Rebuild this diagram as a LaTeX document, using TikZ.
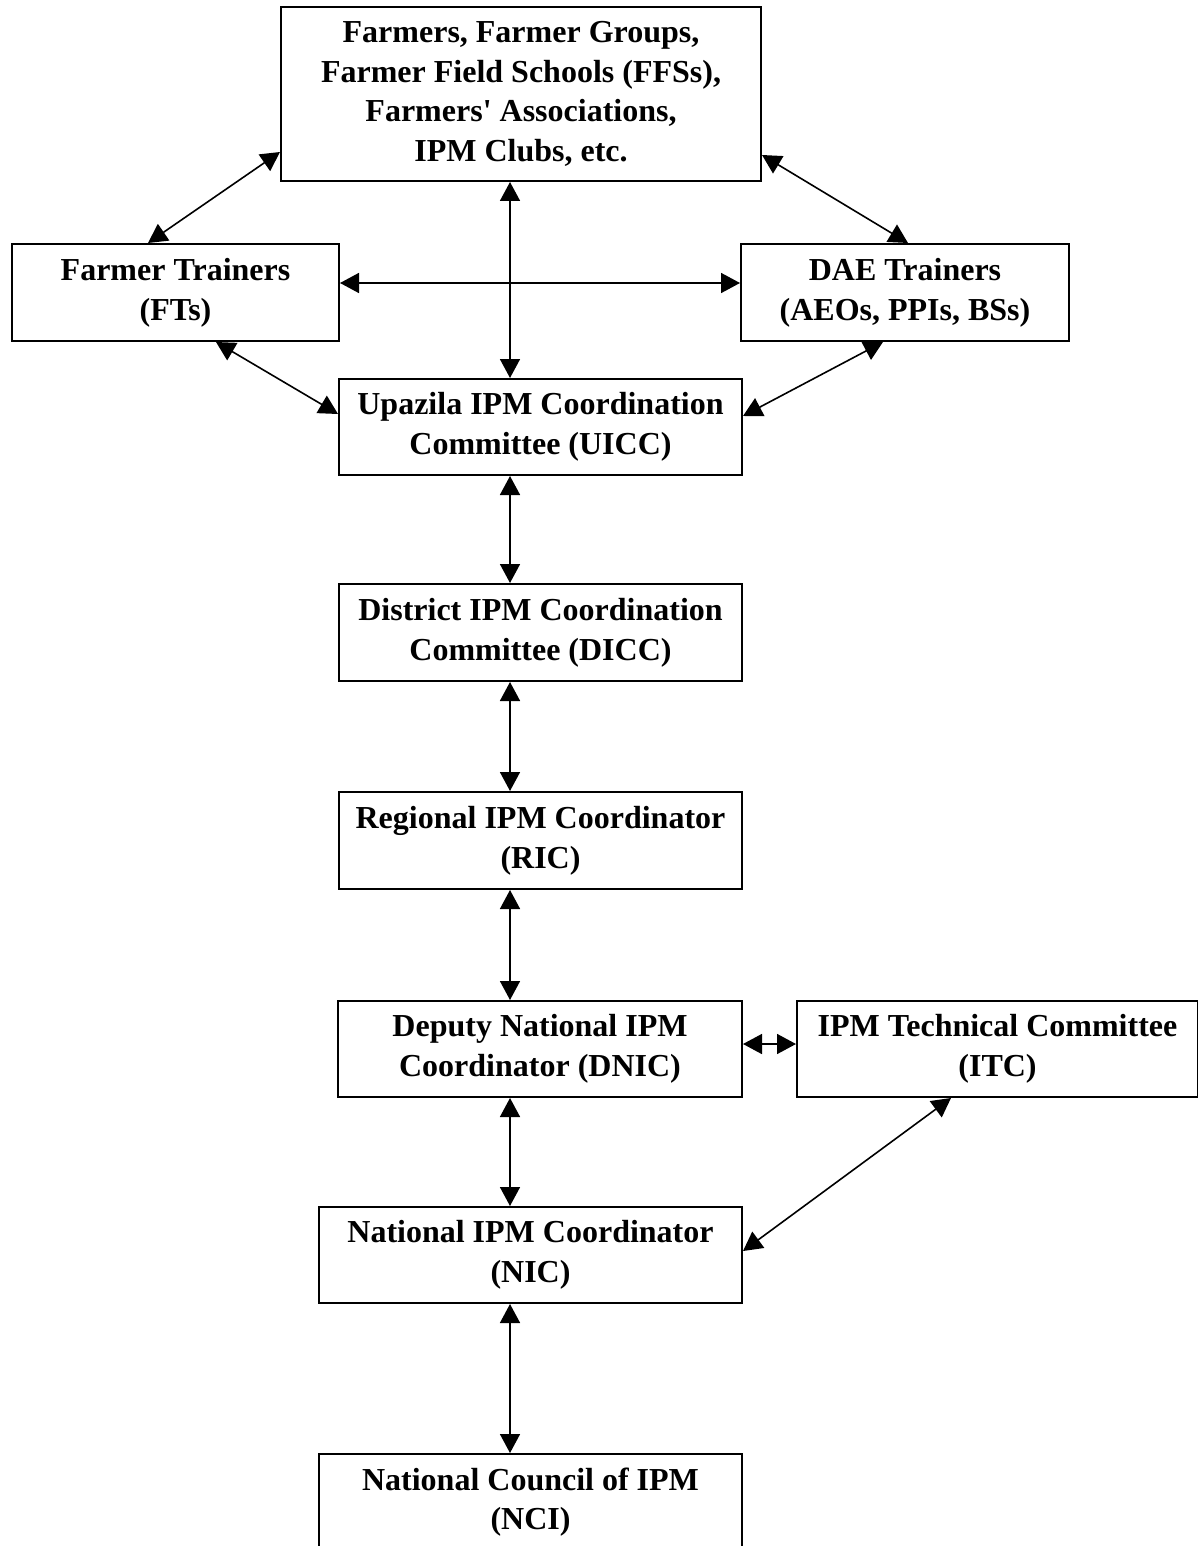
\documentclass[tikz,border=0pt]{standalone}
\usepackage{fontspec}
\setmainfont{Liberation Serif}
\usetikzlibrary{arrows.meta,calc}
\tikzset{
  box/.style={draw, line width=2pt, rectangle, inner sep=0pt, align=center,
    font=\fontsize{32}{39.7}\selectfont\bfseries, anchor=north west},
  arr/.style={line width=1.6pt, {Triangle[length=19pt,width=20pt]}-{Triangle[length=19pt,width=20pt]}}
}
\begin{document}
\begin{tikzpicture}[x=1pt,y=-1pt]
\useasboundingbox (0,0) rectangle (1198,1546);
\clip (0,0) rectangle (1198,1546);
\coordinate (ax) at (510,0);
\node[box, minimum width=480pt, minimum height=174pt] (top) at (280,6)
  {Farmers, Farmer Groups,\\Farmer Field Schools (FFSs),\\Farmers\textquotesingle{} Associations,\\IPM Clubs, etc.};
\node[box, minimum width=327pt, minimum height=97pt] (ft) at (11,243) {Farmer Trainers\\(FTs)};
\node[box, minimum width=328pt, minimum height=97pt] (dae) at (740,243) {DAE Trainers\\(AEOs, PPIs, BSs)};
\node[box, minimum width=403pt, minimum height=96pt] (uicc) at (338,378) {Upazila IPM Coordination\\Committee (UICC)};
\node[box, minimum width=403pt, minimum height=97pt] (dicc) at (338,583) {District IPM Coordination\\Committee (DICC)};
\node[box, minimum width=403pt, minimum height=97pt] (ric) at (338,791) {Regional IPM Coordinator\\(RIC)};
\node[box, minimum width=404pt, minimum height=96pt] (dnic) at (337,1000) {Deputy National IPM\\Coordinator (DNIC)};
\node[box, minimum width=401pt, minimum height=96pt] (itc) at (796,1000) {IPM Technical Committee\\(ITC)};
\node[box, minimum width=423pt, minimum height=96pt] (nic) at (318,1206) {National IPM Coordinator\\(NIC)};
\node[box, minimum width=423pt, minimum height=96pt] (nci) at (318,1453) {National Council of IPM\\(NCI)};

\draw[arr] ([yshift=30pt]top.south west) -- ([xshift=-27.5pt]ft.north);
\draw[arr] ([yshift=27pt]top.south east) -- ([xshift=3pt]dae.north);
\draw[arr] (top.south -| ax) -- (uicc.north -| ax);
\draw[arr] ([yshift=9.5pt]ft.east) -- ([yshift=9.5pt]dae.west);
\draw[arr] ([xshift=40.5pt]ft.south) -- ([yshift=13pt]uicc.west);
\draw[arr] ([xshift=-22pt]dae.south) -- ([yshift=11pt]uicc.east);
\draw[arr] (uicc.south -| ax) -- (dicc.north -| ax);
\draw[arr] (dicc.south -| ax) -- (ric.north -| ax);
\draw[arr] (ric.south -| ax) -- (dnic.north -| ax);
\draw[arr] ([yshift=5pt]dnic.east) -- ([yshift=5pt]itc.west);
\draw[arr] ([xshift=-46.5pt]itc.south) -- ([yshift=4pt]nic.east);
\draw[arr] (dnic.south -| ax) -- (nic.north -| ax);
\draw[arr] (nic.south -| ax) -- (nci.north -| ax);
\end{tikzpicture}
\end{document}
